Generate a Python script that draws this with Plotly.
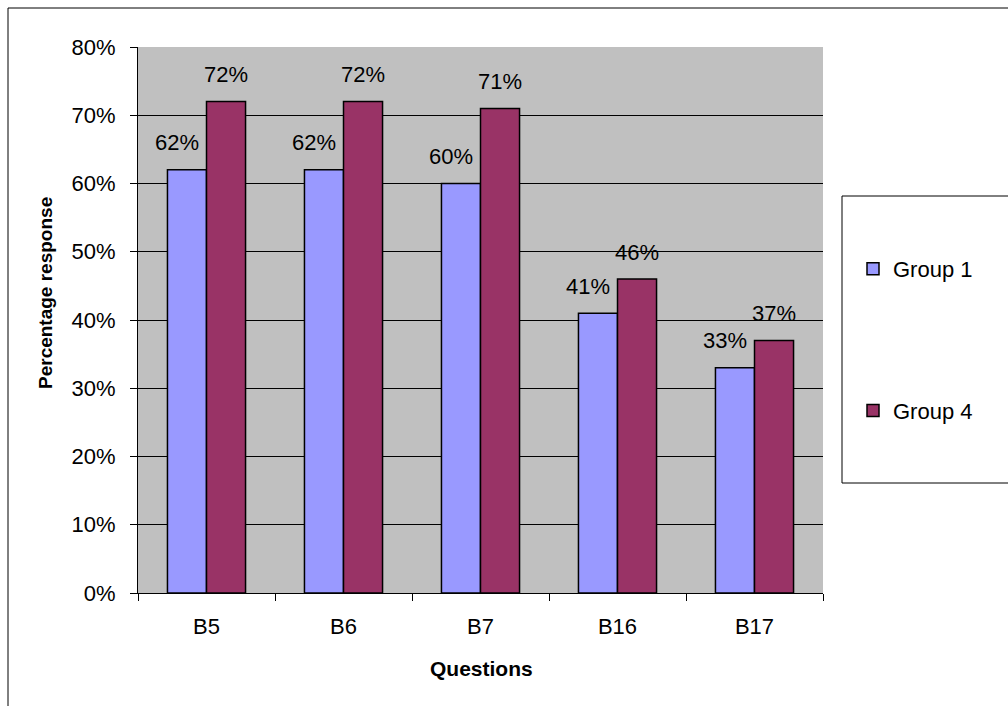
import plotly.graph_objects as go

categories = ["B5", "B6", "B7", "B16", "B17"]
group1 = [0.62, 0.62, 0.60, 0.41, 0.33]
group4 = [0.72, 0.72, 0.71, 0.46, 0.37]
y_ticks = [0, 0.1, 0.2, 0.3, 0.4, 0.5, 0.6, 0.7, 0.8]

FONT = "Liberation Sans, Arial, sans-serif"
FS = 22
W, H = 1008, 706
L, R, T, B = 138, 823, 47, 593  # plot area in pixels


def px_x(p):
    return (p - L) / (R - L)


def px_y(p):
    return (B - p) / (B - T)


fig = go.Figure()
fig.add_trace(go.Bar(
    x=categories, y=group1, name="Group 1", legendgroup="g1",
    marker=dict(color="#9999FF", line=dict(color="#000000", width=1.5)),
))
fig.add_trace(go.Bar(
    x=categories, y=group4, name="Group 4", legendgroup="g4",
    marker=dict(color="#993366", line=dict(color="#000000", width=1.5)),
))

annotations = []
for c, v in zip(categories, group1):
    annotations.append(dict(x=c, y=v, xref="x", yref="y", text=f"{round(v*100)}%",
                            showarrow=False, xshift=-30, yshift=27,
                            xanchor="center", yanchor="middle",
                            font=dict(family=FONT, size=FS, color="#000000")))
for c, v in zip(categories, group4):
    annotations.append(dict(x=c, y=v, xref="x", yref="y", text=f"{round(v*100)}%",
                            showarrow=False, xshift=19, yshift=27,
                            xanchor="center", yanchor="middle",
                            font=dict(family=FONT, size=FS, color="#000000")))

annotations.append(dict(x=px_x(45), y=px_y(293), xref="paper", yref="paper",
                        text="<b>Percentage response</b>", textangle=-90, showarrow=False,
                        xanchor="center", yanchor="middle",
                        font=dict(family=FONT, size=19, color="#000000")))
annotations.append(dict(x=px_x(481), y=px_y(668), xref="paper", yref="paper",
                        text="<b>Questions</b>", showarrow=False,
                        xanchor="center", yanchor="middle",
                        font=dict(family=FONT, size=21, color="#000000")))

shapes = [
    # outer chart border
    dict(type="rect", xref="paper", yref="paper",
         x0=px_x(8), y0=px_y(720), x1=px_x(1020), y1=px_y(8),
         line=dict(color="#000000", width=1), fillcolor="rgba(0,0,0,0)", layer="below"),
    # legend box
    dict(type="rect", xref="paper", yref="paper",
         x0=px_x(842), y0=px_y(483), x1=px_x(1020), y1=px_y(196),
         line=dict(color="#000000", width=1), fillcolor="#FFFFFF", layer="below"),
]

fig.update_layout(
    width=W, height=H,
    margin=dict(l=L, r=W - R, t=T, b=H - B),
    paper_bgcolor="#FFFFFF",
    plot_bgcolor="#C0C0C0",
    barmode="group",
    bargap=0.43,
    bargroupgap=0,
    font=dict(family=FONT, size=FS, color="#000000"),
    showlegend=True,
    legend=dict(
        xref="container", yref="container",
        x=853 / W, y=1 - 248 / H, xanchor="left", yanchor="top",
        bgcolor="rgba(0,0,0,0)", borderwidth=0,
        tracegroupgap=110, traceorder="grouped",
        itemwidth=30,
        font=dict(family=FONT, size=FS, color="#000000"),
    ),
    annotations=annotations,
    shapes=shapes,
)
fig.update_xaxes(
    type="category", showline=True, linecolor="#000000", linewidth=1,
    ticks="outside", tickson="boundaries", ticklen=7, tickcolor="#000000",
    ticklabelstandoff=14, showgrid=False, mirror=False,
    tickfont=dict(family=FONT, size=FS, color="#000000"),
)
fig.update_yaxes(
    range=[0, 0.8], tickvals=y_ticks, tickformat=".0%",
    showline=True, linecolor="#000000", linewidth=1,
    ticks="outside", ticklen=7, tickcolor="#000000",
    ticklabelstandoff=10,
    showgrid=True, gridcolor="#000000", gridwidth=1, zeroline=False,
    tickfont=dict(family=FONT, size=FS, color="#000000"),
)

fig.write_html("out.html")
